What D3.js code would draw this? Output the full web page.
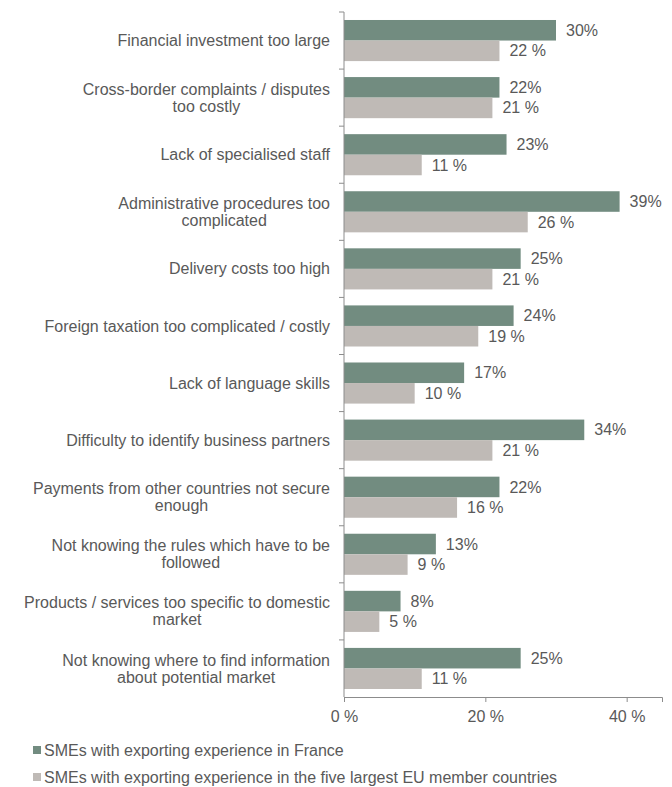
<!DOCTYPE html>
<html>
<head>
<meta charset="utf-8">
<script src="https://cdn.jsdelivr.net/npm/d3@7"></script>
<style>
  body { margin: 0; background: #fff; }
  text { font-family: "Liberation Sans", Arial, sans-serif; fill: #595959; }
</style>
</head>
<body>
<svg id="chart"></svg>
<script>
var categories = [
  "Financial investment too large",
  "Cross-border complaints / disputes\ntoo costly",
  "Lack of specialised staff",
  "Administrative procedures too\ncomplicated",
  "Delivery costs too high",
  "Foreign taxation too complicated / costly",
  "Lack of language skills",
  "Difficulty to identify business partners",
  "Payments from other countries not secure\nenough",
  "Not knowing the rules which have to be\nfollowed",
  "Products / services too specific to domestic\nmarket",
  "Not knowing where to find information\nabout potential market"
];

var franceValues = [30, 22, 23, 39, 25, 24, 17, 34, 22, 13, 8, 25];
var euValues = [22, 21, 11, 26, 21, 19, 10, 21, 16, 9, 5, 11];

var seriesNames = [
  "SMEs with exporting experience in France",
  "SMEs with exporting experience in the five largest EU member countries"
];
var xTicks = [0, 20, 40];

var width = 672;
var height = 787;
var margin = { top: 12, right: 10, bottom: 90, left: 344 };
var colors = ["#728c80", "#bfbab6"];
var fontSize = "16px";

var svg = d3.select("#chart").attr("width", width).attr("height", height);

var x = d3.scaleLinear().domain([0, 45]).range([margin.left, 662]);

var y = d3
  .scaleBand()
  .domain(categories)
  .range([margin.top, height - margin.bottom])
  .paddingInner(0.28)
  .paddingOuter(0.14);

var ySub = d3.scaleBand().domain([0, 1]).range([0, y.bandwidth()]);

var rows = categories.map(function (c, i) {
  return { cat: c, vals: [franceValues[i], euValues[i]] };
});

// bars
var groups = svg
  .selectAll("g.row")
  .data(rows)
  .join("g")
  .attr("class", "row")
  .attr("transform", (d) => `translate(0,${y(d.cat)})`);

groups
  .selectAll("rect")
  .data((d) => d.vals)
  .join("rect")
  .attr("x", x(0))
  .attr("y", (d, i) => ySub(i))
  .attr("width", (d) => x(d) - x(0))
  .attr("height", ySub.bandwidth())
  .attr("fill", (d, i) => colors[i]);

groups
  .selectAll("text.val")
  .data((d) => d.vals)
  .join("text")
  .attr("class", "val")
  .attr("x", (d) => x(d) + 10)
  .attr("y", (d, i) => ySub(i) + ySub.bandwidth() / 2)
  .attr("dy", "0.35em")
  .style("font-size", fontSize)
  .text((d, i) => (i === 0 ? d + "%" : d + " %"));

// category labels: lines centred on each other, block right-aligned to the axis
var step = y.step();
var labelRight = 330;
svg
  .selectAll("text.cat")
  .data(categories)
  .join("text")
  .attr("class", "cat")
  .attr("text-anchor", "middle")
  .style("font-size", fontSize)
  .each(function (d) {
    var lines = d.split("\n");
    var cy = y(d) + y.bandwidth() / 2;
    var t = d3.select(this);
    var spans = lines.map(function (line, k) {
      return t
        .append("tspan")
        .attr("y", cy + (k - (lines.length - 1) / 2) * 17)
        .attr("dy", "0.35em")
        .text(line);
    });
    var maxW = d3.max(spans, (s) => s.node().getComputedTextLength());
    spans.forEach((s) => s.attr("x", labelRight - maxW / 2));
  });

// y axis line with ticks between categories
var yAxisG = svg.append("g");
yAxisG
  .append("line")
  .attr("x1", x(0))
  .attr("x2", x(0))
  .attr("y1", margin.top)
  .attr("y2", height - margin.bottom)
  .attr("stroke", "#8c8c8c");
yAxisG
  .selectAll("line.tick")
  .data(categories)
  .join("line")
  .attr("class", "tick")
  .attr("x1", x(0) - 5)
  .attr("x2", x(0))
  .attr("y1", (d) => y(d) - step * 0.14)
  .attr("y2", (d) => y(d) - step * 0.14)
  .attr("stroke", "#8c8c8c");

// x axis
var xAxis = d3
  .axisBottom(x)
  .tickValues(xTicks)
  .tickSize(5)
  .tickPadding(9)
  .tickFormat((d) => d + " %");

var xg = svg
  .append("g")
  .attr("transform", `translate(0,${height - margin.bottom})`)
  .call(xAxis);
xg.select(".domain").attr("stroke", "#8c8c8c");
xg.selectAll(".tick line").attr("stroke", "#8c8c8c");
xg.selectAll(".tick text")
  .style("font-size", fontSize)
  .attr("fill", "#595959")
  .style("font-family", "'Liberation Sans', Arial, sans-serif");

// legend
var legend = svg
  .selectAll("g.legend")
  .data(seriesNames)
  .join("g")
  .attr("class", "legend")
  .attr("transform", (d, i) => `translate(33,${750 + i * 27})`);

legend
  .append("rect")
  .attr("x", 0)
  .attr("y", -4)
  .attr("width", 8)
  .attr("height", 8)
  .attr("fill", (d, i) => colors[i]);

legend
  .append("text")
  .attr("x", 11)
  .attr("y", 0)
  .attr("dy", "0.35em")
  .style("font-size", fontSize)
  .text((d) => d);
</script>
</body>
</html>
